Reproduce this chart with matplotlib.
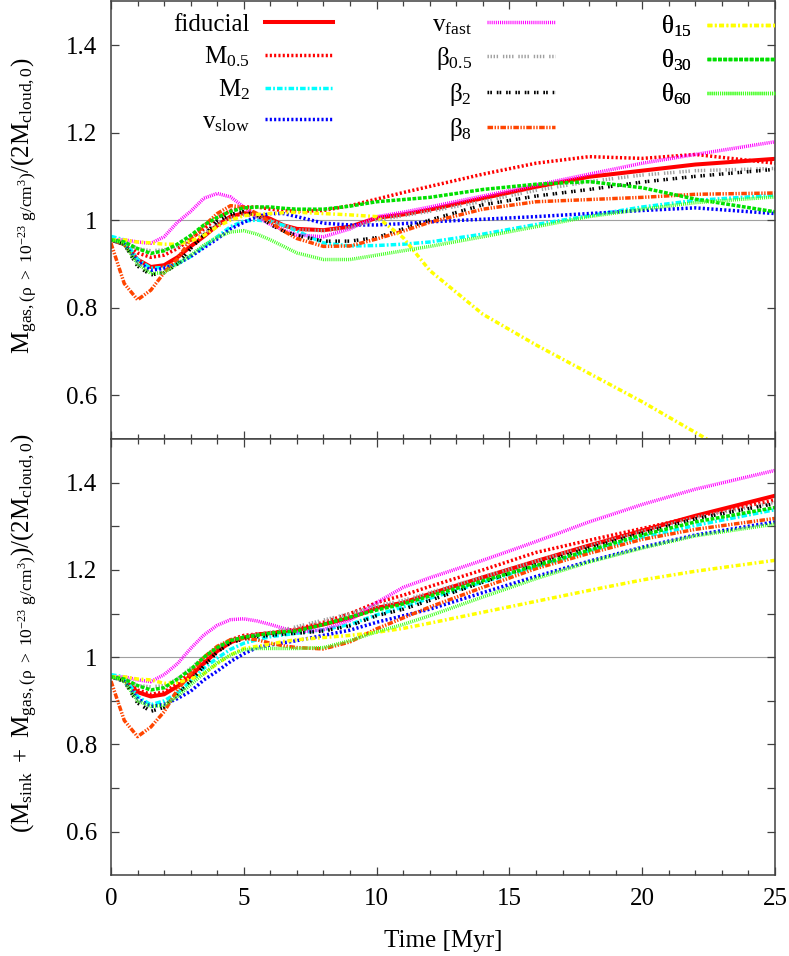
import matplotlib
matplotlib.use("Agg")
import matplotlib.pyplot as plt
import numpy as np

plt.rcParams['font.family'] = ['Liberation Serif', 'DejaVu Serif']
plt.rcParams['mathtext.fontset'] = 'custom'
plt.rcParams['mathtext.rm'] = 'Liberation Serif'
plt.rcParams['mathtext.it'] = 'Liberation Serif'
plt.rcParams['mathtext.bf'] = 'Liberation Serif:bold'
plt.rcParams['lines.scale_dashes'] = False

# ---------------- data ----------------
time = [0, 0.5, 1, 1.5, 2, 2.5, 3, 3.5, 4, 4.5, 5, 5.5, 6, 6.5, 7, 8, 9, 10, 11, 12, 14, 16, 18, 20, 22, 25]

labels = ['fiducial', r'$\mathrm{M_{0.5}}$', r'$\mathrm{M_2}$', r'$\mathrm{v_{slow}}$',
          r'$\mathrm{v_{fast}}$', r'$\mathrm{β_{0.5}}$', r'$\mathrm{β_2}$', r'$\mathrm{β_8}$',
          r'$\mathrm{θ_{15}}$', r'$\mathrm{θ_{30}}$', r'$\mathrm{θ_{60}}$']

# top panel: M_gas / (2 M_cloud,0)
gas_fiducial = [0.955, 0.945, 0.91, 0.893, 0.897, 0.915, 0.94, 0.963, 0.988, 1.008, 1.016, 1.013, 1.003, 0.988, 0.98, 0.977, 0.985, 1.005, 1.013, 1.024, 1.05, 1.076, 1.099, 1.113, 1.127, 1.14]
gas_M05 = [0.955, 0.948, 0.925, 0.915, 0.92, 0.935, 0.957, 0.98, 1.005, 1.022, 1.03, 1.03, 1.025, 1.022, 1.02, 1.022, 1.033, 1.048, 1.063, 1.077, 1.105, 1.13, 1.145, 1.141, 1.15, 1.13]
gas_M2 = [0.963, 0.955, 0.91, 0.89, 0.892, 0.9, 0.917, 0.94, 0.962, 0.985, 0.998, 1.0, 0.997, 0.988, 0.975, 0.948, 0.941, 0.942, 0.945, 0.95, 0.968, 0.99, 1.01, 1.03, 1.045, 1.057]
gas_vslow = [0.955, 0.945, 0.905, 0.885, 0.89, 0.9, 0.917, 0.937, 0.957, 0.98, 0.995, 1.008, 1.015, 1.015, 1.008, 0.993, 0.989, 0.989, 0.992, 0.996, 1.002, 1.008, 1.015, 1.022, 1.028, 1.015]
gas_vfast = [0.955, 0.955, 0.95, 0.947, 0.962, 0.995, 1.02, 1.05, 1.061, 1.053, 1.03, 1.008, 0.99, 0.977, 0.966, 0.962, 0.98, 1.008, 1.018, 1.03, 1.055, 1.08, 1.105, 1.13, 1.15, 1.179]
gas_b05 = [0.955, 0.95, 0.935, 0.93, 0.932, 0.94, 0.953, 0.97, 0.99, 1.005, 1.012, 1.008, 1.0, 0.988, 0.978, 0.976, 0.983, 1.0, 1.01, 1.02, 1.043, 1.068, 1.088, 1.103, 1.113, 1.118]
gas_b2 = [0.955, 0.945, 0.895, 0.875, 0.88, 0.9, 0.935, 0.966, 0.998, 1.013, 1.02, 1.012, 0.99, 0.975, 0.965, 0.952, 0.952, 0.96, 0.98, 1.0, 1.035, 1.055, 1.07, 1.087, 1.1, 1.116]
gas_b8 = [0.947, 0.855, 0.818, 0.84, 0.88, 0.912, 0.955, 0.987, 1.015, 1.033, 1.03, 1.015, 0.995, 0.975, 0.958, 0.94, 0.941, 0.957, 0.975, 0.995, 1.025, 1.042, 1.047, 1.052, 1.059, 1.062]
gas_t15 = [0.955, 0.955, 0.95, 0.948, 0.945, 0.945, 0.952, 0.965, 0.985, 1.0, 1.01, 1.013, 1.015, 1.017, 1.018, 1.015, 1.012, 1.008, 0.96, 0.885, 0.785, 0.715, 0.65, 0.585, 0.515, 0.41]
gas_t30 = [0.955, 0.95, 0.935, 0.924, 0.93, 0.945, 0.965, 0.989, 1.006, 1.02, 1.028, 1.03, 1.03, 1.027, 1.025, 1.025, 1.032, 1.042, 1.047, 1.052, 1.07, 1.082, 1.088, 1.074, 1.048, 1.019]
gas_t60 = [0.955, 0.945, 0.9, 0.878, 0.88, 0.9, 0.92, 0.943, 0.961, 0.973, 0.976, 0.968, 0.955, 0.94, 0.925, 0.91, 0.91, 0.92, 0.93, 0.94, 0.962, 0.985, 1.008, 1.025, 1.04, 1.053]

# bottom panel: (M_sink + M_gas) / (2 M_cloud,0)
tot_fiducial = [0.956, 0.948, 0.92, 0.91, 0.915, 0.933, 0.957, 0.986, 1.014, 1.034, 1.045, 1.052, 1.055, 1.058, 1.062, 1.075, 1.09, 1.113, 1.125, 1.145, 1.183, 1.22, 1.256, 1.29, 1.324, 1.37]
tot_M05 = [0.955, 0.948, 0.925, 0.915, 0.92, 0.94, 0.965, 0.995, 1.02, 1.04, 1.05, 1.053, 1.056, 1.06, 1.065, 1.08, 1.1, 1.125, 1.142, 1.162, 1.2, 1.24, 1.268, 1.295, 1.322, 1.36]
tot_M2 = [0.96, 0.955, 0.91, 0.891, 0.9, 0.918, 0.945, 0.975, 0.998, 1.018, 1.032, 1.04, 1.047, 1.051, 1.055, 1.063, 1.075, 1.097, 1.115, 1.135, 1.172, 1.207, 1.243, 1.275, 1.302, 1.338]
tot_vslow = [0.955, 0.945, 0.905, 0.887, 0.892, 0.905, 0.922, 0.948, 0.968, 0.99, 1.008, 1.022, 1.028, 1.033, 1.038, 1.05, 1.062, 1.08, 1.095, 1.11, 1.148, 1.185, 1.22, 1.252, 1.28, 1.31]
tot_vfast = [0.955, 0.955, 0.948, 0.944, 0.96, 0.985, 1.02, 1.051, 1.073, 1.086, 1.088, 1.083, 1.075, 1.066, 1.058, 1.063, 1.085, 1.125, 1.16, 1.182, 1.222, 1.265, 1.31, 1.35, 1.385, 1.428]
tot_b05 = [0.955, 0.95, 0.935, 0.932, 0.935, 0.95, 0.975, 1.0, 1.022, 1.038, 1.047, 1.052, 1.057, 1.063, 1.07, 1.085, 1.1, 1.118, 1.13, 1.148, 1.184, 1.22, 1.255, 1.288, 1.32, 1.355]
tot_b2 = [0.955, 0.945, 0.895, 0.876, 0.885, 0.915, 0.945, 0.98, 1.012, 1.033, 1.042, 1.047, 1.05, 1.053, 1.055, 1.06, 1.072, 1.095, 1.11, 1.13, 1.172, 1.212, 1.25, 1.284, 1.317, 1.352]
tot_b8 = [0.945, 0.855, 0.818, 0.84, 0.875, 0.925, 0.963, 1.0, 1.025, 1.04, 1.043, 1.04, 1.032, 1.026, 1.022, 1.019, 1.035, 1.065, 1.09, 1.115, 1.16, 1.203, 1.238, 1.27, 1.293, 1.318]
tot_t15 = [0.955, 0.955, 0.95, 0.948, 0.94, 0.942, 0.95, 0.962, 0.985, 1.005, 1.02, 1.025, 1.03, 1.036, 1.04, 1.045, 1.05, 1.057, 1.066, 1.078, 1.103, 1.128, 1.153, 1.177, 1.197, 1.222]
tot_t30 = [0.955, 0.95, 0.935, 0.925, 0.93, 0.95, 0.972, 1.0, 1.022, 1.038, 1.046, 1.05, 1.055, 1.058, 1.06, 1.075, 1.092, 1.108, 1.122, 1.14, 1.175, 1.21, 1.245, 1.28, 1.31, 1.343]
tot_t60 = [0.955, 0.945, 0.9, 0.887, 0.89, 0.91, 0.937, 0.963, 0.987, 1.005, 1.017, 1.02, 1.02, 1.02, 1.02, 1.022, 1.038, 1.058, 1.075, 1.095, 1.138, 1.18, 1.218, 1.25, 1.278, 1.305]

gas_series = [gas_fiducial, gas_M05, gas_M2, gas_vslow, gas_vfast, gas_b05, gas_b2, gas_b8, gas_t15, gas_t30, gas_t60]
tot_series = [tot_fiducial, tot_M05, tot_M2, tot_vslow, tot_vfast, tot_b05, tot_b2, tot_b8, tot_t15, tot_t30, tot_t60]

# ---------------- styles ----------------
colors = ['#ff0000', '#ff0000', '#00ffff', '#0000ff', '#ff00ff', '#a0a0a0',
          '#000000', '#ff4500', '#ffff00', '#00e000', '#44ff22']
styles = ['-', (0, (1.5, 1.6)), (0, (4.0, 1.5, 1.3, 1.5)), (0, (1.5, 1.6)),
          (0, (0.75, 0.75)), (0, (1.0, 1.2, 1.0, 1.2, 1.0, 1.2, 1.0, 3.5)),
          (0, (1.2, 0.8, 1.2, 3.5)), (0, (4.0, 1.1, 1.0, 1.1, 1.0, 1.1)),
          (0, (3.5, 1.8, 1.3, 1.8)), (0, (2.7, 1.1)), (0, (0.75, 0.75))]
widths = [2.9] + [2.5] * 10

W, H = 789, 956
fig = plt.figure(figsize=(W / 100, H / 100), dpi=100)
left = 111 / W
width = (775 - 111) / W
ax1 = fig.add_axes([left, 1 - 439 / H, width, (439 - 1.25) / H])
ax2 = fig.add_axes([left, 1 - 875.4 / H, width, (875.4 - 439) / H])

frame_col = '#404040'
for ax, data in ((ax1, gas_series), (ax2, tot_series)):
    ax.axhline(1.0, color='#a0a0a0', lw=0.8, zorder=1)
    for i, y in enumerate(data):
        ax.plot(time, y, color=colors[i], linestyle=styles[i], lw=widths[i],
                label=labels[i], zorder=2 + i * 0.01)
    ax.set_xlim(0, 25)
    ax.set_ylim(0.5, 1.5)
    ax.set_xticks(np.arange(0, 26, 5))
    ax.set_xticks(np.arange(0, 26, 1), minor=True)
    ax.tick_params(which='both', direction='in', top=True, right=True,
                   color=frame_col, labelsize=18, width=0.9)
    ax.tick_params(which='major', length=6)
    ax.tick_params(which='minor', length=3.5)
    ax.tick_params(axis='y', pad=10)
    ax.tick_params(axis='x', pad=9)
    for s in ax.spines.values():
        s.set_color(frame_col)
        s.set_linewidth(1.1)

ax1.set_yticks([0.6, 0.8, 1.0, 1.2, 1.4])
ax1.set_yticklabels(['0.6', '0.8', '1', '1.2', '1.4'])
ax1.tick_params(axis='x', labelbottom=False)

ax2.set_yticks([0.6, 0.7, 0.8, 0.9, 1.0, 1.1, 1.2, 1.3, 1.4])
ax2.set_yticklabels(['0.6', '', '0.8', '', '1', '', '1.2', '', '1.4'])
ax2.set_xticklabels(['0', '5', '10', '15', '20', '25'])

ax2.set_xlabel('Time [Myr]', fontsize=18)
ax2.xaxis.set_label_coords(0.5, -0.125)

fig.text(24 / W, 1 - 206 / H,
         r'$\mathrm{M_{gas,(ρ\ >\ 10^{-23}\ g/cm^3)}/(2M_{cloud,0})}$',
         rotation=90, ha='center', va='center', fontsize=18)
fig.text(24 / W, 1 - 633 / H,
         r'$\mathrm{(M_{sink}\ +\ M_{gas,(ρ\ >\ 10^{-23}\ g/cm^3)})/(2M_{cloud,0})}$',
         rotation=90, ha='center', va='center', fontsize=18)

# legend in three columns, text right-aligned before the sample line
handles, labs = ax1.get_legend_handles_labels()
groups = [(0, 4, (333 - 111) / 664), (4, 8, (555 - 111) / 664), (8, 11, 1.0)]
for a, b, xa in groups:
    leg = ax1.legend(handles[a:b], labs[a:b], loc='upper right',
                     bbox_to_anchor=(xa, 0.972), frameon=False, markerfirst=False,
                     fontsize=18, handlelength=2.72, handletextpad=0.6,
                     labelspacing=0.34, borderpad=0, borderaxespad=0)
    ax1.add_artist(leg)

fig.savefig('out.png', dpi=100)
